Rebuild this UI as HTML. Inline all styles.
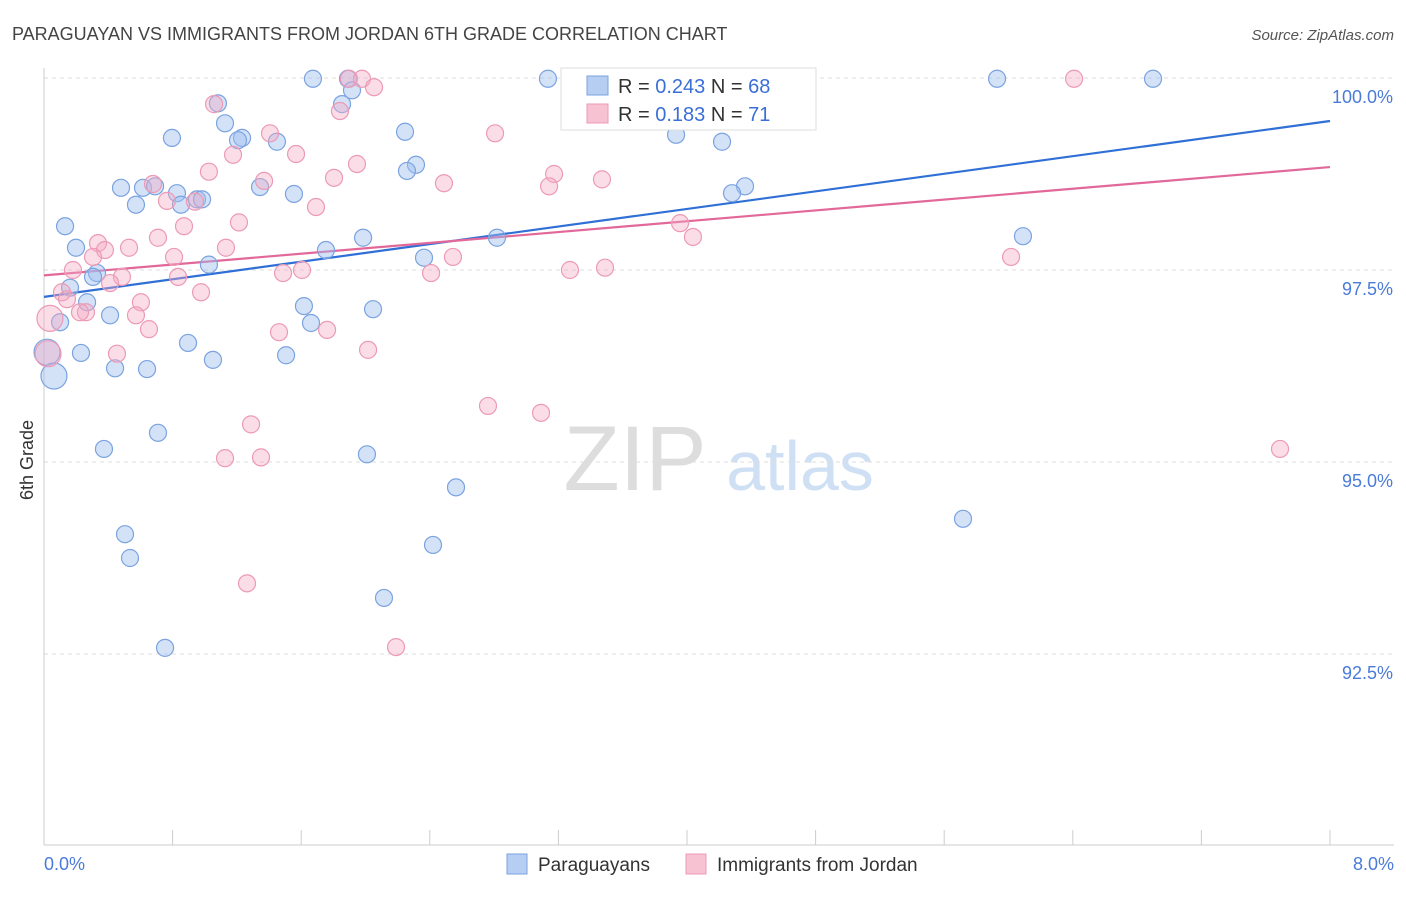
<!DOCTYPE html>
<html><head><meta charset="utf-8"><style>
body{margin:0;background:#fff;font-family:"Liberation Sans",sans-serif;}
svg text{font-family:"Liberation Sans",sans-serif;}
</style></head><body>
<svg id="chart" width="1406" height="892" viewBox="0 0 1406 892">
<text x="12" y="40" font-size="18" fill="#444">PARAGUAYAN VS IMMIGRANTS FROM JORDAN 6TH GRADE CORRELATION CHART</text>
<text x="1394" y="40" font-size="15" fill="#555" text-anchor="end" font-style="italic">Source: ZipAtlas.com</text>
<text x="33" y="460" font-size="18" fill="#333" text-anchor="middle" transform="rotate(-90 33 460)">6th Grade</text>
<g><text x="635" y="490" font-size="92" fill="#ddd" font-family="Liberation Serif" text-anchor="middle">ZIP</text><text x="800" y="490" font-size="70" fill="#cfe0f5" text-anchor="middle">atlas</text></g>
<g id="grid"></g><g id="axes"></g><g id="trend"></g><g id="pts"></g>
<g>
<rect x="561" y="68" width="255" height="62" fill="#fff" stroke="#ddd"/>
<rect x="587" y="76" width="21" height="19" fill="#b7cef3" stroke="#7aa3e0"/>
<text x="618" y="93" font-size="20" fill="#333">R = <tspan fill="#3a6fd8">0.243</tspan>   N = <tspan fill="#3a6fd8">68</tspan></text>
<rect x="587" y="104" width="21" height="19" fill="#f7c3d3" stroke="#ec9ab5"/>
<text x="618" y="121" font-size="20" fill="#333">R =  <tspan fill="#3a6fd8">0.183</tspan>   N =  <tspan fill="#3a6fd8">71</tspan></text>
</g>
<g>
<rect x="507" y="854" width="20" height="20" fill="#b7cef3" stroke="#7aa3e0"/>
<text x="538" y="871" font-size="19" fill="#333">Paraguayans</text>
<rect x="686" y="854" width="20" height="20" fill="#f7c3d3" stroke="#ec9ab5"/>
<text x="717" y="871" font-size="19" fill="#333">Immigrants from Jordan</text>
</g>
</svg>
<script>
const yTicks=[100,97.5,95,92.5];
const yTickLabels=["100.0%","97.5%","95.0%","92.5%"];
const xTickLabels=["0.0%","8.0%"];
const blueX=[1.673,1.891,3.135,5.929,6.899,1.916,1.082,1.854,1.126,2.246,0.796,1.232,1.207,1.449,3.932,4.218,2.314,2.258,0.479,0.616,0.691,0.827,1.344,1.555,4.361,4.280,0.852,0.952,0.983,0.572,0.131,0.199,1.985,1.754,2.818,6.090,2.364,1.026,0.330,0.305,0.162,0.268,0.411,0.100,1.617,2.047,1.661,0.896,0.230,0.019,0.062,0.442,0.641,1.051,1.506,0.709,0.373,2.009,2.563,0.504,2.420,5.717,0.535,2.115,0.753,3.397];
const blueY=[99.99,99.99,99.99,99.99,99.99,99.84,99.67,99.66,99.41,99.30,99.22,99.22,99.19,99.17,99.26,99.17,98.87,98.79,98.57,98.57,98.59,98.50,98.58,98.49,98.59,98.50,98.35,98.42,98.42,98.35,98.07,97.79,97.92,97.76,97.92,97.94,97.66,97.57,97.46,97.41,97.27,97.08,96.91,96.82,97.03,96.99,96.81,96.55,96.42,96.43,96.12,96.22,96.21,96.33,96.39,95.38,95.17,95.10,94.67,94.06,93.92,94.26,93.75,93.23,92.58,99.65];
const pinkX=[1.897,1.978,6.408,4.317,2.053,1.058,1.841,1.406,2.806,1.176,1.568,1.947,1.026,0.678,1.804,1.369,2.488,3.173,3.142,3.471,0.765,0.939,1.692,0.871,1.213,3.957,0.709,0.336,0.529,1.132,0.379,4.037,0.809,0.305,2.544,6.016,0.180,1.605,3.272,3.490,1.487,2.408,0.485,0.834,0.411,0.977,0.112,0.143,0.603,0.261,0.224,0.572,0.653,1.462,1.761,0.037,0.025,2.016,0.454,2.762,3.092,1.288,1.126,1.350,7.689,1.263,2.190,3.708];
const pinkY=[99.99,99.99,99.99,99.99,99.88,99.66,99.57,99.28,99.28,99.00,99.01,98.88,98.78,98.62,98.70,98.66,98.63,98.75,98.59,98.68,98.40,98.39,98.32,98.07,98.12,98.11,97.92,97.85,97.79,97.79,97.76,97.93,97.67,97.67,97.67,97.67,97.50,97.50,97.50,97.53,97.46,97.46,97.41,97.41,97.33,97.21,97.21,97.12,97.08,96.95,96.95,96.91,96.73,96.69,96.72,96.87,96.41,96.46,96.41,95.73,95.64,95.49,95.05,95.06,95.17,93.42,92.59,99.99];
const blueTrend=[97.15,99.44];
const pinkTrend=[97.43,98.84];
const NS="http://www.w3.org/2000/svg";
const X=v=>44+v/8*1286;
const Y=v=>78+(100-v)/2.5*192;
function mk(p,t,a){const e=document.createElementNS(NS,t);for(const k in a)e.setAttribute(k,a[k]);document.getElementById(p).appendChild(e);return e;}
yTicks.forEach((t,i)=>{
 const l=mk('grid','line',{x1:44,x2:1394,y1:Y(t),y2:Y(t),stroke:'#ddd','stroke-dasharray':'4,4'});
 
 
 const tx=mk('grid','text',{x:1393,y:Y(t)+25,'font-size':18,fill:'#4a7bd8','text-anchor':'end'});
 tx.textContent=yTickLabels[i];
 
 
});
const ax=mk('axes','line',{x1:44,x2:44,y1:68,y2:845,stroke:'#ccc'});


const bx=mk('axes','line',{x1:44,x2:1394,y1:845,y2:845,stroke:'#ccc'});


for(let i=0;i<=10;i++){const t=mk('axes','line',{x1:X(i*0.8),x2:X(i*0.8),y1:830,y2:845,stroke:'#ccc'});
 
 }
[[0,'start',44],[1,'end',1394]].forEach(([i,a,x])=>{const t=mk('axes','text',{x:x,y:870,'font-size':18,fill:'#4a7bd8','text-anchor':a});t.textContent=xTickLabels[i];
 
 });
function dots(xs,ys,fill,stroke,name){xs.forEach((x,i)=>{
 const big=(x<0.07);
 const c=mk('pts','circle',{cx:X(x),cy:Y(ys[i]),r:big?13:8.5,fill:fill,stroke:stroke,'stroke-width':1.2});
 
 });}
dots(blueX,blueY,'rgba(160,190,240,0.45)','#7aa3e0','paraguayan-point');
dots(pinkX,pinkY,'rgba(245,170,195,0.4)','#ec9ab5','jordan-point');
const bt=mk('trend','line',{x1:X(0),y1:Y(blueTrend[0]),x2:X(8),y2:Y(blueTrend[1]),stroke:'#2f6fd6','stroke-width':2.2});


const pt=mk('trend','line',{x1:X(0),y1:Y(pinkTrend[0]),x2:X(8),y2:Y(pinkTrend[1]),stroke:'#e2689a','stroke-width':2.2});


</script>
</body></html>
